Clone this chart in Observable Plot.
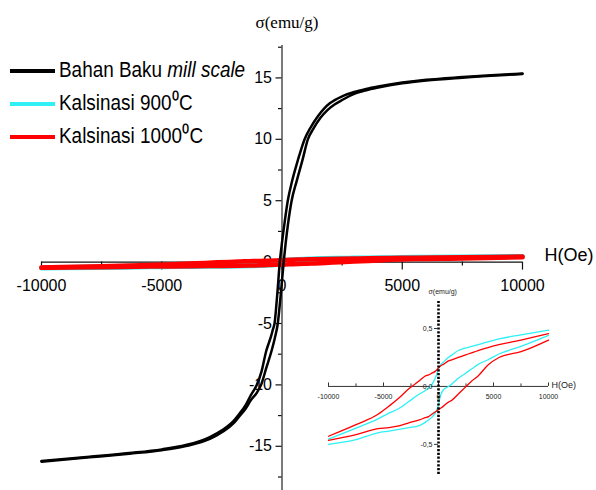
<!DOCTYPE html>
<html><head><meta charset="utf-8">
<script src="https://cdn.jsdelivr.net/npm/d3@7"></script>
<script src="https://cdn.jsdelivr.net/npm/@observablehq/plot@0.6"></script>
<style>
html,body{margin:0;padding:0;background:#fff;}
#wrap{position:relative;width:596px;height:490px;overflow:hidden;font-family:Arial,"Liberation Sans",sans-serif;}
#wrap > svg{position:absolute;left:0;top:0;}
</style></head><body><div id="wrap"></div>
<script>
// ---- series ----
const seriesNames = ["Bahan Baku mill scale", "Kalsinasi 900⁰C", "Kalsinasi 1000⁰C"];
const seriesColors = ["#000000", "#2ef0f5", "#ff0000"];

// Bahan Baku mill scale: descending-field branch and ascending-field branch
const blackDescH = [-10000,-8000,-6350,-5000,-4000,-3000,-2500,-2000,-1770,-1500,-1300,-1050,-850,-650,-550,-450,-380,-310,-200,-92,0,100,240,420,600,800,940,1200,1500,1750,2000,2500,3000,3500,4000,5000,6000,7500,10000];
const blackDescS = [-16.2,-15.85,-15.55,-15.25,-14.9,-14.25,-13.7,-12.9,-12.35,-11.6,-10.85,-10.0,-8.9,-7.2,-6.6,-6.0,-5.5,-5.0,-2.7,0,1.6,3.1,5.0,6.6,7.9,9.2,10.0,11.0,11.9,12.5,12.95,13.5,13.85,14.1,14.3,14.62,14.85,15.07,15.36];
const blackAscH = [-10000,-8000,-6350,-5000,-4000,-3000,-2500,-2000,-1770,-1500,-1300,-1050,-870,-650,-430,-300,-175,-50,70,150,250,400,610,850,1075,1300,1600,1900,2200,2500,3000,3500,4000,5000,6000,7500,10000];
const blackAscS = [-16.25,-15.9,-15.6,-15.32,-14.98,-14.4,-13.85,-13.1,-12.55,-11.9,-11.25,-10.65,-10.0,-8.6,-7.2,-6.2,-5.0,-2.6,0,1.5,3.1,5.0,6.6,8.3,10.0,10.85,11.75,12.4,12.85,13.2,13.7,14.0,14.22,14.56,14.79,15.02,15.32];

// Kalsinasi loops (shared field grid)
const loopH = [-10000,-7500,-5500,-4500,-3600,-2700,-1800,-1200,-900,-600,-300,0,150,450,900,1200,1800,2400,3000,3600,4500,5500,7500,10000];
const cyanDescS = [-0.455,-0.36,-0.28,-0.23,-0.19,-0.13,-0.07,-0.035,-0.015,0.015,0.07,0.15,0.18,0.21,0.25,0.27,0.31,0.33,0.345,0.36,0.385,0.41,0.445,0.485];
const cyanAscS  = [-0.50,-0.46,-0.40,-0.385,-0.37,-0.355,-0.34,-0.31,-0.29,-0.265,-0.23,-0.16,-0.09,-0.03,0.0,0.02,0.07,0.11,0.15,0.19,0.23,0.28,0.345,0.44];
const redDescS  = [-0.43,-0.33,-0.24,-0.17,-0.10,-0.02,0.044,0.09,0.10,0.115,0.13,0.16,0.175,0.19,0.22,0.23,0.25,0.27,0.29,0.31,0.335,0.36,0.40,0.455];
const redAscS   = [-0.465,-0.415,-0.365,-0.355,-0.34,-0.315,-0.29,-0.27,-0.26,-0.24,-0.22,-0.20,-0.19,-0.17,-0.135,-0.12,-0.065,-0.01,0.045,0.09,0.185,0.25,0.30,0.40];

// ---- ticks ----
const mainXTicks = [-10000,-5000,0,5000,10000];
const mainXTickLabels = ["-10000","-5000","0","5000","10000"];
const mainXMinor = [-7500,-2500,2500,7500];
const mainYTicks = [-15,-10,-5,0,5,10,15];
const mainYTickLabels = ["-15","-10","-5","0","5","10","15"];
const mainYMinor = [-17.5,-12.5,-7.5,-2.5,2.5,7.5,12.5,17.5];
const insetXTicks = [-10000,-5000,0,5000,10000];
const insetXTickLabels = ["-10000","-5000","0","5000","10000"];
const insetXMinor = [-7500,-2500,2500,7500];
const insetYTicks = [-0.5,0,0.5];
const insetYTickLabels = ["-0,5","0,0","0,5"];
const yLabel = "σ(emu/g)";
const xLabel = "H(Oe)";

function branch(H, S, series, name) {
  return H.map((h, i) => ({H: h, s: S[i], series, branch: series + "-" + name}));
}
const blackRows = [...branch(blackDescH, blackDescS, 0, "d"), ...branch(blackAscH, blackAscS, 0, "a")];
const cyanRows = [...branch(loopH, cyanDescS, 1, "d"), ...branch(loopH, cyanAscS, 1, "a")];
const redRows = [...branch(loopH, redDescS, 2, "d"), ...branch(loopH, redAscS, 2, "a")];

const sans = "Arial, 'Liberation Sans', sans-serif";
const serif = "'Liberation Serif', 'Times New Roman', serif";
const wrap = document.getElementById("wrap");

// ---- main chart ----
const yTop = 17.64, yBot = -18.6;
const main = Plot.plot({
  width: 596, height: 490,
  marginLeft: 41, marginRight: 74, marginTop: 45, marginBottom: 0,
  style: {background: "transparent", fontFamily: sans, overflow: "visible"},
  x: {domain: [-10000, 10000], axis: null},
  y: {domain: [yBot, yTop], axis: null},
  marks: [
    Plot.ruleY([0], {x1: -10000, x2: 10000, stroke: "#111", strokeWidth: 1.3}),
    Plot.ruleX([0], {y1: yBot, y2: yTop, stroke: "#333", strokeWidth: 1.3}),
    Plot.ruleX(mainXTicks, {x: d => d, y1: 0, y2: 0, insetBottom: -8, stroke: "#111", strokeWidth: 1.2}),
    Plot.ruleX(mainXMinor, {x: d => d, y1: 0, y2: 0, insetBottom: -4, stroke: "#111", strokeWidth: 1.2}),
    Plot.ruleY(mainYTicks, {y: d => d, x1: 0, x2: 0, insetLeft: -6, stroke: "#111", strokeWidth: 1.2}),
    Plot.ruleY(mainYMinor, {y: d => d, x1: 0, x2: 0, insetLeft: -3.5, stroke: "#111", strokeWidth: 1.2}),
    Plot.text(mainXTicks, {x: d => d, y: 0, text: (d, i) => mainXTickLabels[i], dy: 24, fontSize: 16, fill: "#000"}),
    Plot.text(mainYTicks, {x: 0, y: d => d, text: (d, i) => mainYTickLabels[i], dx: -10, textAnchor: "end", fontSize: 16, fill: "#000"}),
    Plot.line(cyanRows, {x: "H", y: "s", z: "branch", stroke: seriesColors[1], strokeWidth: 4.5, curve: "monotone-x"}),
    Plot.line(redRows, {x: "H", y: "s", z: "branch", stroke: seriesColors[2], strokeWidth: 4.5, curve: "monotone-x"}),
    Plot.line(blackRows, {x: "H", y: "s", z: "branch", stroke: seriesColors[0], strokeWidth: 2.5, curve: "monotone-x"}),
    Plot.text([yLabel], {x: 0, y: yTop, text: d => d, dy: -23, dx: 5, fontFamily: serif, fontSize: 17, fill: "#000"}),
    Plot.text([xLabel], {x: 10000, y: 0, text: d => d, dx: 22, dy: -7, textAnchor: "start", fontSize: 18, fill: "#000"})
  ]
});
wrap.appendChild(main);

// ---- inset ----
const iTop = 0.733, iBot = -0.76;
const inset = Plot.plot({
  width: 596, height: 490,
  marginLeft: 328, marginRight: 48, marginTop: 301, marginBottom: 16,
  style: {background: "transparent", fontFamily: sans, overflow: "visible"},
  x: {domain: [-10000, 10000], axis: null},
  y: {domain: [iBot, iTop], axis: null},
  marks: [
    Plot.ruleY([0], {x1: -10000, x2: 10000, stroke: "#333", strokeWidth: 1}),
    Plot.ruleX(insetXTicks, {x: d => d, y1: 0, y2: 0, insetTop: -3.5, stroke: "#333", strokeWidth: 1}),
    Plot.ruleX(insetXMinor, {x: d => d, y1: 0, y2: 0, insetTop: -2.5, stroke: "#333", strokeWidth: 1}),
    Plot.line(cyanRows, {x: "H", y: "s", z: "branch", stroke: seriesColors[1], strokeWidth: 1.3, curve: "monotone-x"}),
    Plot.line(redRows, {x: "H", y: "s", z: "branch", stroke: seriesColors[2], strokeWidth: 1.3, curve: "monotone-x"}),
    Plot.ruleX([0], {y1: iBot, y2: iTop, stroke: "#000", strokeWidth: 2.6, strokeDasharray: "2.2,1.6"}),
    Plot.ruleY(insetYTicks, {y: d => d, x1: 0, x2: 0, insetLeft: -4, stroke: "#333", strokeWidth: 1}),
    Plot.text(insetXTicks, {x: d => d, y: 0, text: (d, i) => insetXTickLabels[i], dy: 10, fontSize: 7, fill: "#222"}),
    Plot.text(insetYTicks, {x: 0, y: d => d, text: (d, i) => insetYTickLabels[i], dx: -6, textAnchor: "end", fontSize: 7, fill: "#222"}),
    Plot.text([yLabel], {x: 0, y: iTop, text: d => d, dy: -10, dx: -10, textAnchor: "start", fontSize: 7, fill: "#222"}),
    Plot.text([xLabel], {x: 10000, y: 0, text: d => d, dx: 3, dy: -1, textAnchor: "start", fontSize: 9, fill: "#222"})
  ]
});
wrap.appendChild(inset);

// ---- legend ----
const leg = d3.create("svg").attr("width", 270).attr("height", 160)
  .style("position", "absolute").style("left", "0px").style("top", "0px");
seriesNames.forEach((name, i) => {
  const cy = 71 + i * 33;
  leg.append("line").attr("x1", 10).attr("x2", 55).attr("y1", cy).attr("y2", cy)
    .attr("stroke", seriesColors[i]).attr("stroke-width", 4);
  const t = leg.append("text").attr("x", 59).attr("y", cy + 6.5)
    .attr("font-family", sans).attr("font-size", 21.5).attr("fill", "#000")
    .attr("transform", `translate(59,0) scale(0.88,1) translate(-59,0)`);
  name.split(/(mill scale|⁰)/).filter(p => p.length).forEach(part => {
    const sp = t.append("tspan").text(part);
    if (part === "mill scale") sp.attr("font-style", "italic");
    if (part === "⁰") sp.attr("font-size", 23);
  });
});
wrap.appendChild(leg.node());
</script></body></html>
